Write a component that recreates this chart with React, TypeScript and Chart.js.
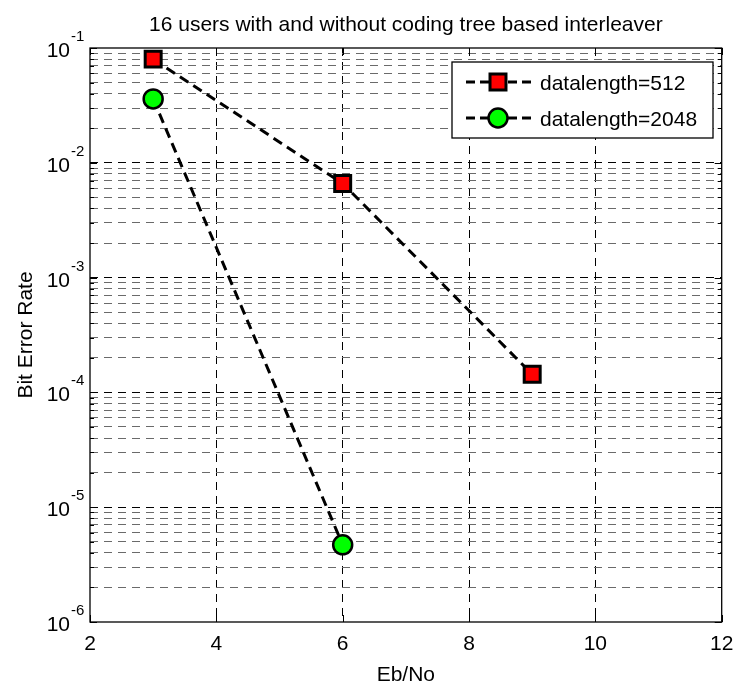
import React, { useEffect, useRef } from "react";
import { Chart, registerables } from "chart.js";

Chart.register(...registerables);

const titleText = "16 users with and without coding tree based interleaver";
const xLabel = "Eb/No";
const yLabel = "Bit Error Rate";
const xTicks = [2, 4, 6, 8, 10, 12];
const yExps = [-6, -5, -4, -3, -2, -1];

const ebno512 = [3, 6, 9];
const ber512 = [0.08, 0.0066, 1.44e-4];
const ebno2048 = [3, 6];
const ber2048 = [0.036, 4.7e-6];
const seriesNames = ["datalength=512", "datalength=2048"];

const FONT = '"Liberation Sans", Arial, Helvetica, sans-serif';

function isMajor(v: number) {
  const l = Math.log10(v);
  return Math.abs(l - Math.round(l)) < 1e-6;
}

const decorPlugin = {
  id: "decor",
  afterDraw(chart: any) {
    const ctx = chart.ctx as CanvasRenderingContext2D;
    const { left, right, top, bottom } = chart.chartArea;
    const xs = chart.scales.x;
    const ys = chart.scales.y;
    ctx.save();
    ctx.setLineDash([]);
    // frame
    ctx.strokeStyle = "#000";
    ctx.lineWidth = 1.3;
    ctx.strokeRect(left, top, right - left, bottom - top);
    // x ticks inward
    ctx.lineWidth = 1;
    ctx.beginPath();
    for (const v of xTicks) {
      const px = Math.round(xs.getPixelForValue(v)) + 0.5;
      ctx.moveTo(px, bottom);
      ctx.lineTo(px, bottom - 7);
      ctx.moveTo(px, top);
      ctx.lineTo(px, top + 7);
    }
    // y ticks inward
    for (const e of yExps) {
      for (let m = 1; m <= 9; m++) {
        const v = m * Math.pow(10, e);
        if (v > 0.1 + 1e-12) break;
        const py = Math.round(ys.getPixelForValue(v)) + 0.5;
        const len = m === 1 ? 7 : 4;
        ctx.moveTo(left, py);
        ctx.lineTo(left + len, py);
        ctx.moveTo(right, py);
        ctx.lineTo(right - len, py);
      }
    }
    ctx.stroke();

    ctx.fillStyle = "#000";
    // x tick labels
    ctx.font = `21px ${FONT}`;
    ctx.textAlign = "center";
    ctx.textBaseline = "alphabetic";
    for (const v of xTicks) {
      ctx.fillText(String(v), xs.getPixelForValue(v), bottom + 28);
    }
    // y tick labels with superscripts
    for (const e of yExps) {
      const py = ys.getPixelForValue(Math.pow(10, e));
      ctx.font = `21px ${FONT}`;
      ctx.textAlign = "right";
      ctx.fillText("10", left - 20, py + 9);
      ctx.font = `15px ${FONT}`;
      ctx.textAlign = "left";
      ctx.fillText(String(e), left - 19, py - 7);
    }
    // title
    ctx.font = `21px ${FONT}`;
    ctx.textAlign = "center";
    ctx.fillText(titleText, (left + right) / 2, top - 17);
    // x label
    ctx.fillText(xLabel, (left + right) / 2, bottom + 59);
    // y label
    ctx.save();
    ctx.translate(32, (top + bottom) / 2);
    ctx.rotate(-Math.PI / 2);
    ctx.fillText(yLabel, 0, 0);
    ctx.restore();

    // legend
    const lx = 452, ly = 62, lw = 261, lh = 76;
    ctx.fillStyle = "#fff";
    ctx.fillRect(lx, ly, lw, lh);
    ctx.strokeStyle = "#000";
    ctx.lineWidth = 1.3;
    ctx.strokeRect(lx, ly, lw, lh);
    const rows = [ly + 20, ly + 56];
    chart.data.datasets.forEach((ds: any, i: number) => {
      const cy = rows[i];
      ctx.strokeStyle = "#000";
      ctx.lineWidth = 3;
      ctx.setLineDash([9, 5]);
      ctx.beginPath();
      ctx.moveTo(466, cy);
      ctx.lineTo(531, cy);
      ctx.stroke();
      ctx.setLineDash([]);
      ctx.fillStyle = ds.pointBackgroundColor;
      ctx.lineWidth = ds.pointBorderWidth;
      ctx.beginPath();
      if (ds.pointStyle === "rect") {
        const s = Math.SQRT1_2 * ds.pointRadius;
        ctx.rect(498 - s, cy - s, 2 * s, 2 * s);
      } else {
        ctx.arc(498, cy, ds.pointRadius, 0, Math.PI * 2);
      }
      ctx.fill();
      ctx.stroke();
      ctx.fillStyle = "#000";
      ctx.font = `21px ${FONT}`;
      ctx.textAlign = "left";
      ctx.fillText(seriesNames[i], 540, cy + 8);
    });
    ctx.restore();
  },
};

export default function App() {
  const ref = useRef<HTMLCanvasElement | null>(null);
  useEffect(() => {
    if (!ref.current) return;
    const chart = new Chart(ref.current, {
      type: "line",
      data: {
        datasets: [
          {
            label: seriesNames[0],
            data: ebno512.map((x, i) => ({ x, y: ber512[i] })),
            borderColor: "#000",
            borderWidth: 3,
            borderDash: [10, 6],
            pointStyle: "rect",
            pointRadius: 11.3,
            pointBackgroundColor: "#ff0000",
            pointBorderColor: "#000",
            pointBorderWidth: 3,
            fill: false,
            tension: 0,
          } as any,
          {
            label: seriesNames[1],
            data: ebno2048.map((x, i) => ({ x, y: ber2048[i] })),
            borderColor: "#000",
            borderWidth: 3,
            borderDash: [10, 6],
            pointStyle: "circle",
            pointRadius: 9.5,
            pointBackgroundColor: "#00ff00",
            pointBorderColor: "#000",
            pointBorderWidth: 2.5,
            fill: false,
            tension: 0,
          } as any,
        ],
      },
      options: {
        responsive: false,
        animation: false,
        layout: { padding: { left: 90, top: 48, right: 13, bottom: 62 } },
        plugins: { legend: { display: false }, tooltip: { enabled: false }, title: { display: false } },
        scales: {
          x: {
            type: "linear",
            min: 2,
            max: 12,
            ticks: { display: false, stepSize: 2 },
            afterBuildTicks: (s: any) => {
              s.ticks = xTicks.slice(1, -1).map((v) => ({ value: v }));
            },
            grid: { drawTicks: false, color: "#000", lineWidth: 1 },
            border: { display: false, dash: [8, 6] },
          },
          y: {
            type: "logarithmic",
            min: 1e-6,
            max: 1e-1,
            ticks: { display: false },
            afterBuildTicks: (s: any) => {
              const t: any[] = [];
              for (const e of yExps) {
                for (let m = 1; m <= 9; m++) {
                  const v = m * Math.pow(10, e);
                  if (v > 1e-6 * 1.0001 && v < 0.1 * 0.9999) t.push({ value: v });
                }
              }
              s.ticks = t;
            },
            grid: {
              drawTicks: false,
              lineWidth: 1,
              color: (c: any) => (c.tick && isMajor(c.tick.value) ? "#000" : "#6a6a6a"),
            },
            border: { display: false, dash: [8, 6] },
          },
        },
      } as any,
      plugins: [decorPlugin],
    });
    return () => chart.destroy();
  }, []);
  return (
    <div style={{ position: "absolute", left: 0, top: 0, width: 736, height: 684, background: "#fff" }}>
      <canvas ref={ref} width={736} height={684} style={{ width: 736, height: 684 }} />
    </div>
  );
}
